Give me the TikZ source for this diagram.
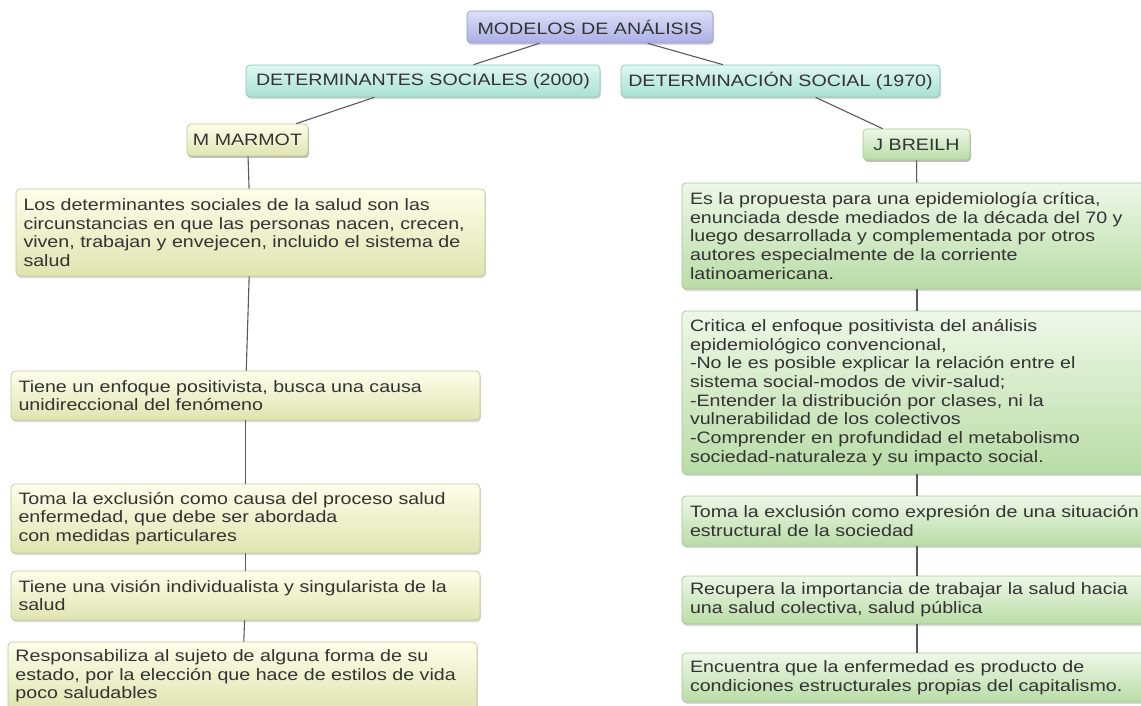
\documentclass[tikz,border=0pt]{standalone}
\usepackage{fontspec}
\setmainfont{Liberation Sans}[FakeStretch=1.19]
\usepackage{tikz}
\usetikzlibrary{shadows}
\definecolor{ylwtop}{HTML}{FEFEEA}
\definecolor{ylwbot}{HTML}{E0E4B0}
\definecolor{ylwline}{HTML}{C2C69C}
\definecolor{grntop}{HTML}{EEF8E8}
\definecolor{grnbot}{HTML}{B9DCA6}
\definecolor{grnline}{HTML}{A2C692}
\definecolor{tealtop}{HTML}{E0F7F2}
\definecolor{tealbot}{HTML}{A8E1D3}
\definecolor{tealline}{HTML}{8AC4B6}
\definecolor{lavtop}{HTML}{DDDFF8}
\definecolor{lavbot}{HTML}{ABAFE5}
\definecolor{lavline}{HTML}{9297CA}

\begin{document}
\begin{tikzpicture}[x=1pt, y=-1pt, font=\fontsize{16.5}{18.7}\selectfont,
    box/.style={draw, rounded corners=4pt, line width=.7pt, text=black!80,
      drop shadow={shadow xshift=1pt, shadow yshift=-2pt, opacity=.3}},
    title/.style={box, align=center, inner xsep=0pt, minimum height=32pt},
    ybox/.style={box, draw=ylwline, top color=ylwtop, bottom color=ylwbot},
    gbox/.style={box, draw=grnline, top color=grntop, bottom color=grnbot},
    textbox/.style={align=left, text width=454pt, inner xsep=7.5pt},
    link/.style={draw=black!65, line width=1.1pt}]
            \useasboundingbox (0,0) rectangle (1141,706);
            \clip (0,0) rectangle (1141,706);
            % heads
            \node[title, draw=lavline, top color=lavtop, bottom color=lavbot, minimum width=246pt] (M) at (590,27) {MODELOS DE ANÁLISIS};
            \node[title, draw=tealline, top color=tealtop, bottom color=tealbot, minimum width=354pt] (DS) at (423,81) {DETERMINANTES SOCIALES (2000)};
            \node[title, draw=tealline, top color=tealtop, bottom color=tealbot, minimum width=319pt] (DN) at (780.5,81) {DETERMINACIÓN SOCIAL (1970)};
            \node[title, ybox, minimum width=121pt] (MM) at (247.5,140) {M MARMOT};
            \node[title, gbox, minimum width=107pt, minimum height=31pt] (JB) at (916.5,144.5) {J BREILH};
            % left column
            \node[ybox, textbox, minimum height=87pt] (L1) at (250.5,232.5) {Los determinantes sociales de la salud son las\\
              circunstancias en que las personas nacen, crecen,\\
              viven, trabajan y envejecen, incluido el sistema de\\
              salud};
            \node[ybox, textbox, minimum height=49pt] (L2) at (245.5,395.5) {Tiene un enfoque positivista, busca una causa\\
              unidireccional del fenómeno};
            \node[ybox, textbox, minimum height=69pt] (L3) at (245.5,518.5) {Toma la exclusión como causa del proceso salud\\
              enfermedad, que debe ser abordada\\
              con medidas particulares};
            \node[ybox, textbox, minimum height=49pt] (L4) at (245.5,595.5) {Tiene una visión individualista y singularista de la\\
              salud};
            \node[ybox, textbox, minimum height=68pt] (L5) at (242.5,676) {Responsabiliza al sujeto de alguna forma de su\\
              estado, por la elección que hace de estilos de vida\\
              poco saludables};
            % right column
            \node[gbox, textbox, inner xsep=8pt, minimum height=106pt] (R1) at (917,236) {Es la propuesta para una epidemiología crítica,\\
              enunciada desde mediados de la década del 70 y\\
              luego desarrollada y complementada por otros\\
              autores especialmente de la corriente\\
              latinoamericana.};
            \node[gbox, textbox, inner xsep=8pt, minimum height=163pt] (R2) at (917,392.5) {Critica el enfoque positivista del análisis\\
              epidemiológico convencional,\\
              -No le es posible explicar la relación entre el\\
              sistema social-modos de vivir-salud;\\
              -Entender la distribución por clases, ni la\\
              vulnerabilidad de los colectivos\\
              -Comprender en profundidad el metabolismo\\
              sociedad-naturaleza y su impacto social.};
            \node[gbox, textbox, inner xsep=8pt, minimum height=50pt] (R3) at (917,521) {Toma la exclusión como expresión de una situación\\
              estructural de la sociedad};
            \node[gbox, textbox, inner xsep=8pt, minimum height=48pt] (R4) at (917,600) {Recupera la importancia de trabajar la salud hacia\\
              una salud colectiva, salud pública};
            \node[gbox, textbox, inner xsep=8pt, minimum height=49pt] (R5) at (917,677.5) {Encuentra que la enfermedad es producto de\\
              condiciones estructurales propias del capitalismo.};
            \foreach\a/\b in {M/DS, M/DN, DS/MM, DN/JB, MM/L1, L1/L2, L2/L3, L3/L4, L4/L5,
              JB/R1, R1/R2, R2/R3, R3/R4, R4/R5}{
              \draw[link] (\a) -- (\b);
            }
          \end{tikzpicture}
\end{document}
